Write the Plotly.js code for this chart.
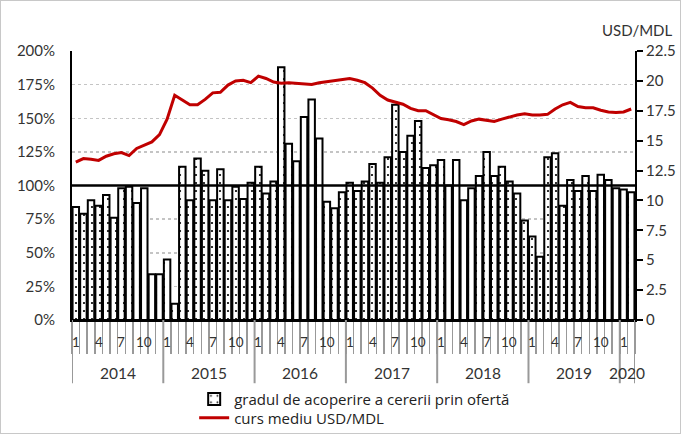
<!DOCTYPE html>
<html>
<head>
<meta charset="utf-8">
<script src="https://cdn.plot.ly/plotly-3.0.1.min.js"></script>
<style>
html,body{margin:0;padding:0;background:#fff;}
#wrap{position:relative;width:681px;height:434px;}
#chart{width:681px;height:434px;}
#frame{position:absolute;left:0;top:0;width:679px;height:432px;border:1px solid #c8c8c8;pointer-events:none;}
</style>
</head>
<body>
<div id="wrap"><div id="chart"></div><div id="frame"></div></div>
<script>
// ---- data ----
const years = ['2014','2015','2016','2017','2018','2019','2020'];
const monthLabels = ['1','4','7','10'];
const monthLabelIdx = [0,3,6,9];
// gradul de acoperire a cererii prin ofertă (%), monthly Jan 2014 - Feb 2020
const coverage = [
  84, 79, 89, 85, 93, 76, 98, 99, 87, 98, 34, 34,
  45, 12, 114, 89, 120, 111, 89, 112, 89, 99, 90, 102,
  114, 94, 103, 188, 131, 118, 151, 164, 135, 88, 83, 95,
  102, 96, 103, 116, 102, 121, 160, 125, 137, 148, 113, 115,
  119, 100, 119, 89, 98, 107, 125, 107, 114, 103, 94, 74,
  62, 47, 121, 124, 85, 104, 96, 107, 96, 108, 104, 98,
  97, 95
];
// curs mediu USD/MDL
const usdMdl = [
  13.2, 13.5, 13.45, 13.35, 13.7, 13.9, 14.0, 13.75, 14.35, 14.6, 14.9, 15.5,
  16.8, 18.8, 18.4, 18.0, 18.0, 18.45, 19.0, 19.05, 19.65, 20.0, 20.05, 19.85,
  20.4, 20.2, 19.9, 19.8, 19.85, 19.8, 19.7, 19.7, 19.85, 19.95, 20.05, 20.15,
  20.2, 20.05, 19.85, 19.4, 18.8, 18.4, 18.25, 18.05, 17.7, 17.5, 17.5, 17.15,
  16.85, 16.75, 16.6, 16.35, 16.65, 16.8, 16.7, 16.6, 16.8, 17.0, 17.15, 17.25,
  17.15, 17.15, 17.2, 17.65, 18.0, 18.2, 17.85, 17.75, 17.75, 17.55, 17.4, 17.35,
  17.4, 17.65
];
const leftTicks = [0,25,50,75,100,125,150,175,200];
const rightTicks = [0,2.5,5,7.5,10,12.5,15,17.5,20,22.5];

// ---- build ----
const n = coverage.length;
const xs = coverage.map((_, i) => i);
const boundaries = [];
for (let i = 0; i <= n; i++) boundaries.push(i - 0.5);

const FONT = 'Lato, "Open Sans", sans-serif';
const LFONT = '"Open Sans", Lato, sans-serif';
const TXT = '#333';

const shapes = [];
const annotations = [];
// 100% reference line
shapes.push({type:'line', xref:'paper', x0:0, x1:1, yref:'y', y0:100, y1:100,
  line:{color:'#000', width:2.5}, layer:'above'});
// year separators & labels
years.forEach((yr, k) => {
  const start = k * 12;
  const count = Math.min(12, n - start);
  shapes.push({type:'line', xref:'x', x0:start - 0.5, x1:start - 0.5, yref:'paper', y0:0, y1:-0.235,
    line:{color:'#999', width:2}});
  annotations.push({xref:'x', x:start + (count - 1) / 2, yref:'paper', y:-0.197, yanchor:'middle',
    text:yr, showarrow:false, font:{family:FONT, size:15.5, color:TXT}});
  monthLabelIdx.forEach((m, j) => {
    if (start + m < n) {
      annotations.push({xref:'x', x:start + m, yref:'paper', y:-0.082, yanchor:'middle',
        text:monthLabels[j], showarrow:false, font:{family:FONT, size:13.5, color:TXT}});
    }
  });
});
shapes.push({type:'line', xref:'x', x0:n - 0.5, x1:n - 0.5, yref:'paper', y0:0, y1:-0.235,
  line:{color:'#999', width:2}});
annotations.push({xref:'paper', x:1.005, xanchor:'center', yref:'paper', y:1.078, yanchor:'middle',
  text:'USD/MDL', showarrow:false, font:{family:FONT, size:15, color:TXT}});

const traces = [
  {type:'bar', x:xs, y:coverage, name:'gradul de acoperire a cererii prin ofertă', legend:'legend',
   marker:{color:'#fff', line:{color:'#000', width:2},
     pattern:{shape:'.', fgcolor:'#000', bgcolor:'#fff', size:8, solidity:0.06}},
   hoverinfo:'skip'},
  {type:'scatter', mode:'lines', x:xs, y:usdMdl, yaxis:'y2', name:'curs mediu USD/MDL', legend:'legend2',
   line:{color:'#C00000', width:3}, hoverinfo:'skip'}
];

const legendBase = {orientation:'v', xanchor:'left', yref:'container', yanchor:'top',
  font:{family:LFONT, size:15, color:'#222'}, itemwidth:30, bgcolor:'rgba(0,0,0,0)'};

const layout = {
  width:681, height:434,
  margin:{l:72, r:46, t:51, b:114, autoexpand:false},
  paper_bgcolor:'#fff', plot_bgcolor:'#fff',
  font:{family:FONT, size:14, color:TXT},
  bargap:0.15,
  showlegend:true,
  legend:Object.assign({}, legendBase, {x:0.217, y:0.118}),
  legend2:Object.assign({}, legendBase, {x:0.217, y:0.075}),
  xaxis:{range:[-0.5, n - 0.5], tickmode:'array', tickvals:boundaries, ticks:'outside', ticklen:32,
    tickcolor:'#999', tickwidth:1.5, showticklabels:false, showgrid:false, zeroline:false,
    showline:true, linecolor:'#000', linewidth:2, fixedrange:true},
  yaxis:{range:[0,200], tickmode:'array', tickvals:leftTicks, ticktext:leftTicks.map(v => v + '%'),
    ticks:'outside', ticklen:12, tickcolor:'rgba(0,0,0,0)', showgrid:true, gridcolor:'#c4c4c4',
    griddash:'dot', gridwidth:1.5, zeroline:false, showline:true, linecolor:'#000', linewidth:2,
    tickfont:{family:FONT, size:15, color:TXT}},
  yaxis2:{range:[0,22.5], overlaying:'y', side:'right', tickmode:'array', tickvals:rightTicks,
    ticktext:rightTicks.map(v => String(v)), ticks:'outside', ticklen:6, tickwidth:2, tickcolor:'#000',
    showgrid:false, zeroline:false, showline:true, linecolor:'#000', linewidth:2,
    tickfont:{family:FONT, size:15, color:TXT}},
  shapes:shapes,
  annotations:annotations
};

Plotly.newPlot('chart', traces, layout, {staticPlot:true, displayModeBar:false});
</script>
</body>
</html>
